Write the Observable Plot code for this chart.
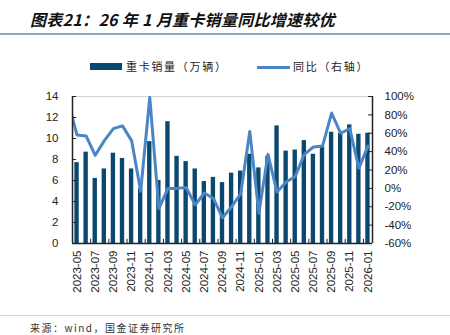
<!DOCTYPE html>
<html>
<head>
<meta charset="utf-8">
<script src="https://cdn.jsdelivr.net/npm/d3@7"></script>
<script src="https://cdn.jsdelivr.net/npm/@observablehq/plot@0.6"></script>
<style>
  html, body { margin: 0; padding: 0; background: #fff; }
  body { width: 450px; height: 335px; position: relative; overflow: hidden; font-family: "Noto Sans CJK SC", "Liberation Sans", sans-serif; }
  #title { position: absolute; left: 30px; top: 7px; font-size: 16px; font-weight: bold; font-style: italic; color: #111; white-space: nowrap; letter-spacing: 0.3px; }
  #titleLine { position: absolute; left: 0; top: 33px; width: 450px; height: 1.5px; background: #8aabc4; }
  .leg { position: absolute; font-size: 11px; color: #222; white-space: nowrap; letter-spacing: 1.7px; top: 58px; }
  #sw1 { position: absolute; left: 90px; top: 63px; width: 32px; height: 7px; background: #0b4870; }
  #sw2 { position: absolute; left: 257px; top: 66px; width: 33px; height: 3px; background: #4a86c6; }
  #chart { position: absolute; left: 0; top: 85px; }
  #footLine { position: absolute; left: 0; top: 315px; width: 450px; height: 1px; background: #c6d3de; }
  #source { position: absolute; left: 30px; top: 320px; font-size: 10px; color: #333; letter-spacing: 1.5px; white-space: nowrap; }
</style>
</head>
<body>
<div id="title">图表21：26 年 1 月重卡销量同比增速较优</div>
<div id="titleLine"></div>
<div id="sw1"></div>
<div class="leg" style="left:126px">重卡销量（万辆）</div>
<div id="sw2"></div>
<div class="leg" style="left:293px">同比（右轴）</div>
<div id="chart"></div>
<div id="footLine"></div>
<div id="source">来源：wind，国金证券研究所</div>
<script>
// Months (first entry 2023-04 only carries the YoY value that enters from the left edge)
const months = ["2023-04","2023-05","2023-06","2023-07","2023-08","2023-09","2023-10","2023-11","2023-12",
  "2024-01","2024-02","2024-03","2024-04","2024-05","2024-06","2024-07","2024-08","2024-09","2024-10","2024-11","2024-12",
  "2025-01","2025-02","2025-03","2025-04","2025-05","2025-06","2025-07","2025-08","2025-09","2025-10","2025-11","2025-12",
  "2026-01"];
// 重卡销量（万辆）
const sales = [null, 7.7, 8.7, 6.2, 7.1, 8.6, 8.1, 7.1, 5.2,
  9.7, 6.0, 11.6, 8.3, 7.8, 7.1, 5.9, 6.3, 5.8, 6.7, 6.9, 8.5,
  7.2, 8.3, 11.2, 8.8, 8.9, 9.8, 8.5, 9.2, 10.6, 10.5, 11.3, 10.4,
  10.5];
// 同比（%）
const yoy = [95, 58, 57, 36, 52, 65, 68, 52, -3,
  99, -22, 0, 0, 1, -18, -5, -11, -32, -20, -6, 62,
  -27, 37, -4, 7, 13, 37, 45, 46, 82, 60, 65, 22,
  46];
const leftTicks = [0, 2, 4, 6, 8, 10, 12, 14];
const rightTicks = [-60, -40, -20, 0, 20, 40, 60, 80, 100];

const barColor = "#0b4870";
const lineColor = "#4a86c6";
const axisColor = "#222";
const textColor = "#222";

const L = [0, 14], R = [-60, 100];
const toLeft = p => (p - R[0]) / (R[1] - R[0]) * (L[1] - L[0]) + L[0];

const rows = months.map((m, i) => ({i, month: m, sales: sales[i], yoy: yoy[i]}));
const barRows = rows.filter(d => d.sales != null);
const firstIdx = barRows[0].i, lastIdx = barRows[barRows.length - 1].i;
const xMin = firstIdx - 0.5, xMax = lastIdx + 0.5;
const labelRows = barRows.filter((d, k) => k % 2 === 0);
const xTickPos = labelRows.map(d => d.i - 0.5);

const chart = Plot.plot({
  width: 450, height: 215,
  marginLeft: 72, marginRight: 78, marginTop: 11, marginBottom: 57,
  x: {type: "linear", domain: [xMin, xMax], axis: null},
  y: {domain: L, axis: null},
  style: {fontFamily: "'Liberation Sans', Arial, sans-serif", background: "transparent"},
  marks: [
    Plot.ruleY([L[1]], {stroke: "#d4d4d4", strokeWidth: 1}),
    Plot.rectY(barRows, {x1: d => d.i - 0.24, x2: d => d.i + 0.24, y1: 0, y2: "sales", fill: barColor}),
    Plot.lineY(rows, {x: "i", y: d => toLeft(d.yoy), stroke: lineColor, strokeWidth: 3, strokeLinejoin: "round", clip: true}),
    Plot.ruleX([xMin, xMax], {y1: L[0], y2: L[1], stroke: axisColor, strokeWidth: 1.5}),
    Plot.ruleY([L[0]], {x1: xMin, x2: xMax, stroke: axisColor, strokeWidth: 1.5}),
    Plot.ruleY(leftTicks, {x1: xMin, x2: xMin + 0.45, stroke: axisColor, strokeWidth: 1}),
    Plot.ruleY(rightTicks.map(toLeft), {x1: xMax - 0.45, x2: xMax, stroke: axisColor, strokeWidth: 1}),
    Plot.ruleX(xTickPos, {y1: L[0], y2: 0.4, stroke: axisColor, strokeWidth: 1}),
    Plot.text(leftTicks, {x: xMin, y: d => d, text: d => String(d), textAnchor: "end", dx: -14, fontSize: 11.5, fill: textColor}),
    Plot.text(rightTicks, {x: xMax, y: d => toLeft(d), text: d => d + "%", textAnchor: "start", dx: 12, fontSize: 11.5, fill: textColor}),
    Plot.text(labelRows, {x: "i", y: L[0], text: "month", rotate: -90, textAnchor: "end", dy: 7, fontSize: 11.5, fill: textColor})
  ]
});
document.getElementById("chart").appendChild(chart);
</script>
</body>
</html>
